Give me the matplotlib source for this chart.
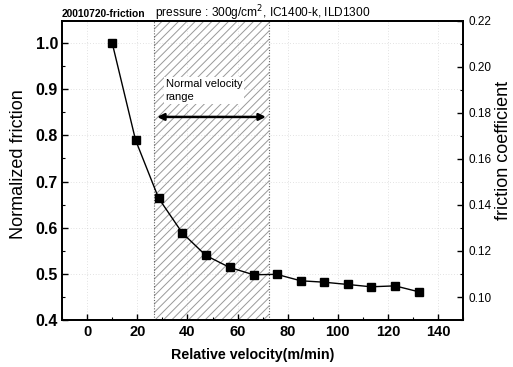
import matplotlib
matplotlib.use("Agg")
import matplotlib.pyplot as plt
from matplotlib.ticker import MultipleLocator

plt.rcParams['font.family'] = ['Liberation Sans', 'DejaVu Sans']
plt.rcParams['hatch.linewidth'] = 0.7

velocity = [10, 19.3, 28.5, 37.9, 47.3, 56.8, 66.4, 75.6, 85.2, 94.4, 104, 113.2, 122.8, 132.4]
norm_friction = [1.0, 0.790, 0.664, 0.589, 0.540, 0.514, 0.498, 0.499, 0.485, 0.482, 0.477, 0.472, 0.474, 0.461]
range_lo, range_hi = 26.8, 72.4
x_ticks = [0, 20, 40, 60, 80, 100, 120, 140]
y_ticks = [0.4, 0.5, 0.6, 0.7, 0.8, 0.9, 1.0]
y2_ticks = [0.10, 0.12, 0.14, 0.16, 0.18, 0.20, 0.22]

fig = plt.figure(figsize=(5.13, 3.67), dpi=100)
ax = fig.add_axes([0.121, 0.128, 0.782, 0.815])

ax.set_xlim(-10, 150)
ax.set_ylim(0.4, 1.048)

# grid (faint dotted)
for xv in x_ticks:
    ax.axvline(xv, color='#c8c8c8', lw=0.5, ls=(0, (1, 3)), zorder=0)
for yv in y_ticks:
    ax.axhline(yv, color='#c8c8c8', lw=0.5, ls=(0, (1, 3)), zorder=0)

# hatched range
ax.axvspan(range_lo, range_hi, facecolor='none', edgecolor='#999999', hatch='////', lw=0, zorder=1)
ax.axvline(range_lo, color='#666666', lw=0.8, ls=(0, (1, 1.5)), zorder=2)
ax.axvline(range_hi, color='#666666', lw=0.8, ls=(0, (1, 1.5)), zorder=2)

ax.annotate('', xy=(range_hi, 0.84), xytext=(range_lo, 0.84),
            arrowprops=dict(arrowstyle='<|-|>', color='black', lw=1.8, mutation_scale=10), zorder=4)
ax.text(range_lo + 4.5, 0.872, 'Normal velocity\nrange', fontsize=8, ha='left', va='bottom',
        linespacing=1.4, bbox=dict(facecolor='white', edgecolor='none', pad=1.5), zorder=3)

ax.plot(velocity, norm_friction, color='black', lw=1.0, marker='s', markersize=5.5, zorder=5)

ax.set_xticks(x_ticks)
ax.set_yticks(y_ticks)
ax.set_xticklabels([str(v) for v in x_ticks], fontweight='bold', fontsize=10.5)
ax.set_yticklabels([f'{v:.1f}' for v in y_ticks], fontweight='bold', fontsize=11.5)
ax.xaxis.set_minor_locator(MultipleLocator(10))
ax.yaxis.set_minor_locator(MultipleLocator(0.05))
ax.tick_params(which='both', direction='in', top=False, right=False)
ax.tick_params(which='major', length=4, width=1.0)
ax.tick_params(which='minor', length=2, width=0.8)
ax.tick_params(axis='y', pad=3)
ax.set_xlabel('Relative velocity(m/min)', fontsize=10.3, fontweight='bold')
ax.xaxis.set_label_coords(0.476, -0.095)
ax.set_ylabel('Normalized friction', fontsize=13)
ax.yaxis.set_label_coords(-0.088, 0.52)
for s in ax.spines.values():
    s.set_linewidth(1.3)

ax2 = ax.twinx()
ax2.set_ylim(0.09, 0.22)
ax2.set_yticks(y2_ticks)
ax2.set_yticklabels([f'{v:.2f}' for v in y2_ticks])
ax2.yaxis.set_minor_locator(MultipleLocator(0.01))
ax2.tick_params(which='both', direction='in')
ax2.tick_params(which='major', length=4, width=1.0, labelsize=8.5)
ax2.tick_params(which='minor', length=2, width=0.8)
for s in ax2.spines.values():
    s.set_linewidth(1.3)
fig.text(503 / 513, 1 - 150 / 367, 'friction coefficient', fontsize=13, rotation=90,
         ha='center', va='center')

fig.text(0.121, 0.953, '20010720-friction', fontsize=7.4, fontweight='bold', ha='left', va='baseline')
fig.text(0.302, 0.953, 'pressure : 300g/cm$^2$, IC1400-k, ILD1300', fontsize=8.6, ha='left', va='baseline')

fig.savefig('out.png', dpi=100)
